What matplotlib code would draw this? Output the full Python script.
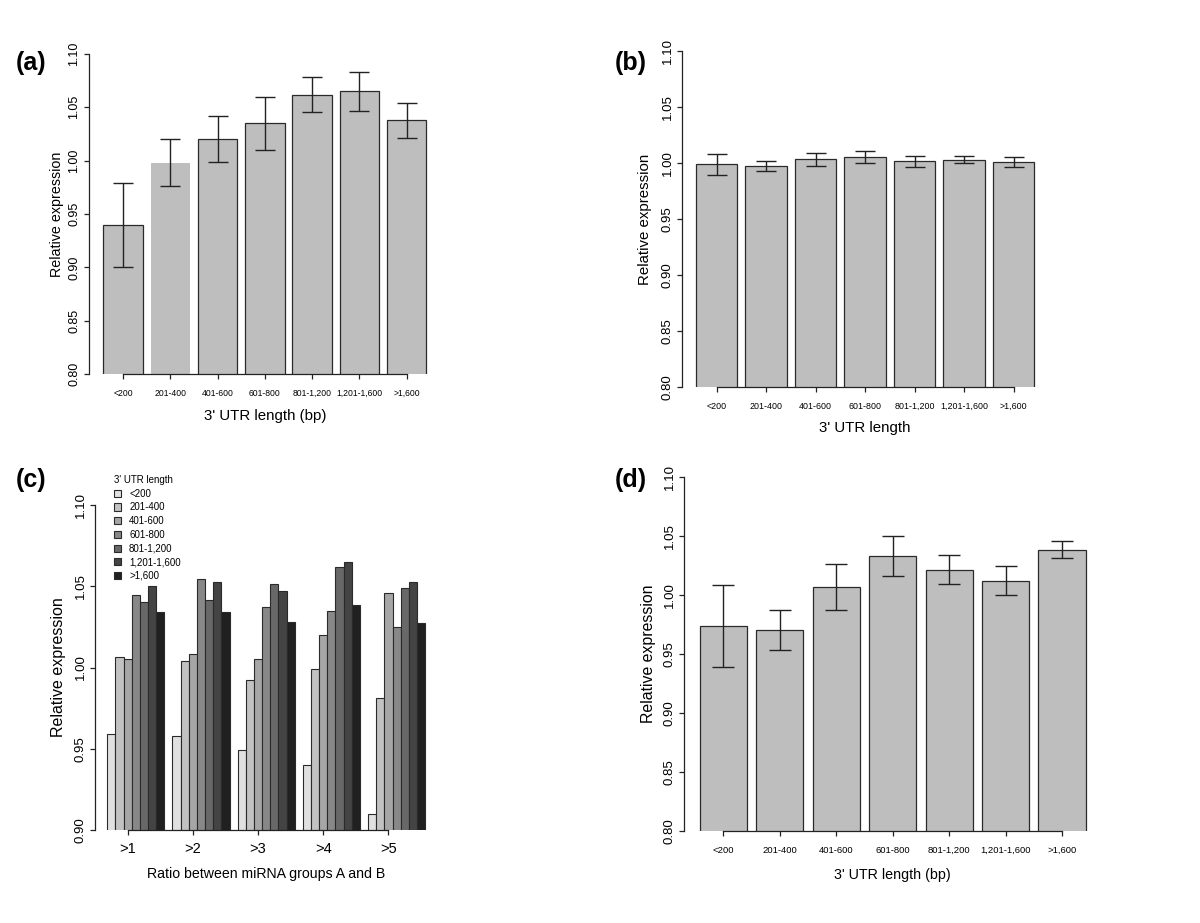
import numpy as np
import matplotlib
matplotlib.use("Agg")
import matplotlib.pyplot as plt
from matplotlib.patches import Patch

plt.rcParams['font.family'] = ['Liberation Sans', 'DejaVu Sans']

# ---------------- data ----------------
utr_labels = ["<200", "201-400", "401-600", "601-800", "801-1,200", "1,201-1,600", ">1,600"]

a_values = [0.940, 0.998, 1.020, 1.035, 1.062, 1.065, 1.038]
a_errors = [0.0395, 0.022, 0.0215, 0.025, 0.016, 0.018, 0.0165]

b_values = [0.9987, 0.9975, 1.0032, 1.0056, 1.0014, 1.0029, 1.0008]
b_errors = [0.0097, 0.0043, 0.0060, 0.0053, 0.0051, 0.0033, 0.0047]

d_values = [0.9734, 0.9701, 1.0068, 1.0331, 1.0215, 1.0121, 1.0384]
d_errors = [0.0348, 0.0170, 0.0192, 0.0171, 0.0120, 0.0123, 0.0071]

ratio_labels = [">1", ">2", ">3", ">4", ">5"]
# rows: ratio groups, columns: UTR length classes
c_values = [
    [0.9589, 1.0064, 1.0055, 1.0446, 1.0402, 1.0499, 1.0341],
    [0.9581, 1.0043, 1.0082, 1.0542, 1.0415, 1.0528, 1.0341],
    [0.9491, 0.9924, 1.0055, 1.0374, 1.0515, 1.0470, 1.0281],
    [0.9400, 0.9988, 1.0203, 1.0347, 1.0618, 1.0649, 1.0382],
    [0.9097, 0.9811, 1.0456, 1.0251, 1.0491, 1.0528, 1.0271],
]
c_colors = ['#e0e0e0', '#c2c2c2', '#a6a6a6', '#888888', '#686868', '#444444', '#202020']

BAR = '#bebebe'
EDGE = '#2a2a2a'

W, H = 1200, 923
fig = plt.figure(figsize=(W / 100, H / 100), dpi=100)


def px_axes(left, right, top, bottom):
    return fig.add_axes([left / W, 1 - bottom / H, (right - left) / W, (bottom - top) / H])


def style_axes(ax, ylo, yhi, yticks, yfs=9):
    for s in ('top', 'right'):
        ax.spines[s].set_visible(False)
    for s in ('left', 'bottom'):
        ax.spines[s].set_linewidth(0.9)
        ax.spines[s].set_color('#222222')
    ax.set_ylim(ylo, yhi)
    ax.set_yticks(yticks)
    ax.set_yticklabels([f"{t:.2f}" for t in yticks], rotation=90, va='center', fontsize=yfs)
    ax.tick_params(axis='both', direction='out', length=3.6, width=0.9, color='#222222')
    ax.tick_params(axis='y', pad=2.5)


def single_panel(left, top, bottom, c0, c6, values, errors, xlabel, xl_y, ylab_x,
                 xfs, ylfs, xlfs, yfs=9.5, no_edge=(), capsize=7.2):
    unit = (c6 - c0) / 7.2
    xl = -(c0 - left) / unit
    xr = 7.75
    right = left + (xr - xl) * unit
    ax = px_axes(left, right, top, bottom)
    x = np.arange(len(values)) * 1.2
    edges = [('none' if i in no_edge else EDGE) for i in range(len(values))]
    ax.bar(x, values, width=1.0, bottom=0, color=BAR, edgecolor=edges, linewidth=0.9)
    ax.errorbar(x, values, yerr=errors, fmt='none', ecolor='#222222', elinewidth=1.0,
                capsize=capsize, capthick=1.0)
    ax.set_xlim(xl, xr)
    style_axes(ax, 0.80, 1.10, [0.80, 0.85, 0.90, 0.95, 1.00, 1.05, 1.10], yfs=yfs)
    ax.spines['bottom'].set_bounds(x[0], x[-1])
    ax.set_xticks(x)
    ax.set_xticklabels(utr_labels, fontsize=xfs)
    ax.tick_params(axis='x', pad=7)
    fig.text(((c0 + c6) / 2) / W, 1 - xl_y / H, xlabel,
             ha='center', va='center', fontsize=xlfs)
    fig.text(ylab_x / W, 1 - (top + bottom) / 2 / H, "Relative expression", rotation=90,
             ha='center', va='center', fontsize=ylfs)
    return ax


# (a)
single_panel(89, 54, 374, 123, 406.7, a_values, a_errors, "3' UTR length (bp)", 416, 57,
             6.2, 10.3, 10.8, yfs=9, no_edge=(1,))
# (b)
single_panel(682, 51, 387, 716.5, 1013.5, b_values, b_errors, "3' UTR length", 428, 645,
             6.4, 10.8, 10.8)
# (d)
single_panel(684, 477, 831, 723.5, 1062, d_values, d_errors, "3' UTR length (bp)", 875, 648,
             6.8, 11.4, 10.3, capsize=8)

# (c)
unit_c = 8.15
xl_c = -0.509
xr_c = 40.5
left_c = 95
right_c = left_c + (xr_c - xl_c) * unit_c
axc = px_axes(left_c, right_c, 505, 830)
cv = np.array(c_values)
ng, nb = cv.shape
for j in range(nb):
    xs = 1 + np.arange(ng) * (nb + 1) + j + 0.5
    axc.bar(xs, cv[:, j], width=1.0, bottom=0, color=c_colors[j], edgecolor=EDGE, linewidth=0.8)
axc.set_xlim(xl_c, xr_c)
style_axes(axc, 0.90, 1.10, [0.90, 0.95, 1.00, 1.05, 1.10], yfs=9.5)
tick_pos = 1 + np.arange(ng) * (nb + 1) + 2.5
axc.spines['bottom'].set_bounds(tick_pos[0], tick_pos[-1])
axc.set_xticks(tick_pos)
axc.set_xticklabels(ratio_labels, fontsize=10.5)
axc.tick_params(axis='x', pad=5)
fig.text(266 / W, 1 - 874 / H, "Ratio between miRNA groups A and B", ha='center', va='center',
         fontsize=10.2)
fig.text(58 / W, 1 - 667 / H, "Relative expression", rotation=90, ha='center', va='center',
         fontsize=11.5)
handles = [Patch(facecolor=c, edgecolor=EDGE, linewidth=0.8) for c in c_colors]
leg = fig.legend(handles, utr_labels, title="3' UTR length", loc='upper left',
                 bbox_to_anchor=(114 / W, 1 - 475 / H), frameon=False, fontsize=7,
                 title_fontsize=7, handlelength=0.75, handleheight=0.75, handletextpad=0.8,
                 labelspacing=0.38, borderaxespad=0, borderpad=0, alignment='left')

# panel labels
for lab, x, y in [("(a)", 31, 63), ("(b)", 631, 63), ("(c)", 31, 480), ("(d)", 631, 480)]:
    fig.text(x / W, 1 - y / H, lab, ha='center', va='center', fontsize=18, fontweight='bold')

fig.savefig("out.png", dpi=100)
